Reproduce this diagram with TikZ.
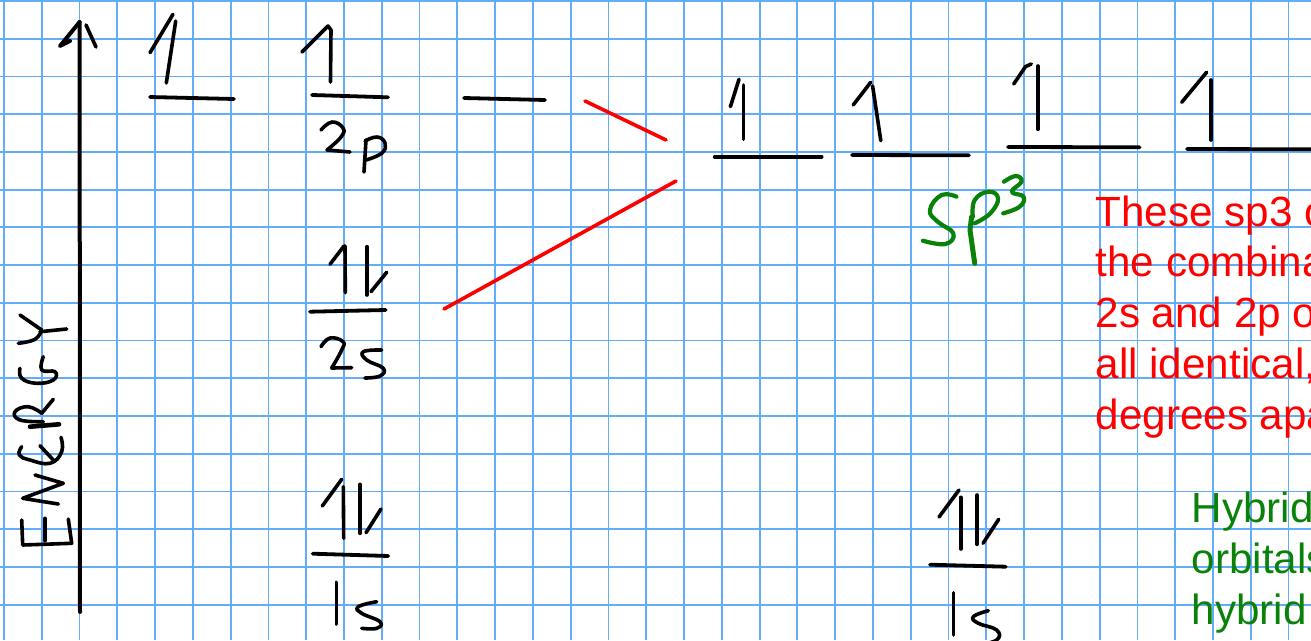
\documentclass[tikz,border=0pt]{standalone}
\usepackage{fontspec}
\setmainfont{Liberation Sans}
\definecolor{gridblue}{RGB}{98,172,250}
\definecolor{inkgreen}{RGB}{10,130,10}
\tikzset{
  gridline/.style={draw=gridblue,line width=1.8pt},
  ink/.style={draw=black,line width=3.6pt,line cap=round,line join=round},
  level/.style={draw=black,line width=3.8pt,line cap=round},
  redline/.style={draw=red,line width=3.6pt,line cap=round},
  greenink/.style={draw=inkgreen,line width=4.2pt,line cap=round,line join=round},
  curve/.style={smooth,tension=.75},
  redtext/.style={anchor=base west,inner sep=0pt,text=red,font=\fontsize{42.2}{42.2}\selectfont},
  greentext/.style={anchor=base west,inner sep=0pt,text=inkgreen,font=\fontsize{42.2}{42.2}\selectfont}
}
\begin{document}
\begin{tikzpicture}[x=1pt,y=-1pt]
\useasboundingbox (0,0) rectangle (1311,640);
\clip (0,0) rectangle (1311,640);
\fill[white] (0,0) rectangle (1311,640);
% grid
\foreach \k in {0,...,34} \draw[gridline] ({4+37.78*\k},0) -- ({4+37.78*\k},640);
\foreach \k in {0,...,16} \draw[gridline] (0,{1+37.73*\k}) -- (1311,{1+37.73*\k});
% axis
\draw[ink,line width=4pt] (80,612) -- (79.6,22);
\draw[ink,line width=4pt] (79.6,22) -- (60,46) -- (70,41);
\draw[ink] (86,25) -- (96,47);
% ENERGY
\draw[ink] (21.7,520) -- (22.7,545) -- (71.7,543.3) -- (68.3,519);
\draw[ink] (45,518.3) -- (45,540.7);
\draw[ink] (58.3,504) -- (22.7,498.3) -- (63.3,483.3) -- (35,475);
\draw[ink] plot[curve] coordinates {(21.7,446.7) (19.3,455) (30,460) (50,463.3) (61.7,451.7) (61,437.3)};
\draw[ink] (40,445.7) -- (53.3,460);
\draw[ink,line width=4.6pt] (59,424.3) -- (30,426.7);
\draw[ink] plot[curve] coordinates {(43.3,421.7) (20,420) (15,411.7) (28.3,406.7) (41.7,413.3)};
\draw[ink] (41.7,413.3) -- (53.3,399.3);
\draw[ink] plot[curve] coordinates {(20,368.3) (21.7,378.3) (36.7,383.3) (53.3,380) (55,371.7) (41.7,370) (43.3,356.7)};
\draw[ink] (66.7,329) -- (40,331.7);
\draw[ink] plot[curve] coordinates {(18.3,343.3) (35,339.3) (41.7,330)};
\draw[ink] (41.7,330) -- (20,315);
% 2p orbitals
\draw[ink] (175.7,21) -- (166.3,83);
\draw[ink] (173,14.3) -- (150,52.7);
\draw[level] (150,97) -- (234,99);
\draw[ink] (302,52) -- (328,26) -- (331,30) -- (330.5,82);
\draw[level] (312,95) -- (388,97.3);
\draw[level] (464,98) -- (545,100);
\draw[ink] plot[curve] coordinates {(321,130) (332,122) (343,128) (341,137) (327,150)};
\draw[ink] (327,150) -- (350,152);
\draw[ink] (366,140) -- (364,172);
\draw[ink] plot[curve] coordinates {(365,141) (377,137) (385,143) (382,153) (366,160)};
% 2s
\draw[ink] (345,246) -- (345.3,292.7);
\draw[ink] (330,264.3) -- (344,246);
\draw[ink] (367,246.7) -- (367,295);
\draw[ink] (371,291.7) -- (386.7,272.3);
\draw[level] (310,311.7) -- (385.7,310);
\draw[ink] plot[curve] coordinates {(321,346.7) (330,338) (343,341.7) (341.7,350) (331.7,368)};
\draw[ink] (331.7,368) -- (351.7,367.7);
\draw[ink] plot[curve] coordinates {(381.7,350) (363.3,351.7) (366.7,360) (383.3,368.3) (380,376) (365,378)};
% 1s left
\draw[ink] (322.3,506) -- (341.7,479.3);
\draw[ink] (343.3,486.7) -- (343.7,538.3);
\draw[ink] (360,484.3) -- (360,533.3);
\draw[ink] (366,532.7) -- (381,509);
\draw[level] (312.7,553.7) -- (388.3,556);
\draw[ink] (336.3,582.3) -- (336.3,624);
\draw[ink] plot[curve] coordinates {(376.7,601.7) (358.3,606.7) (361.7,613.3) (380,621.7) (376.7,628.3) (361.7,628.3)};
% hybridisation lines
\coordinate (pend) at (585,101);
\coordinate (hybtop) at (666,140);
\coordinate (send) at (444,309);
\coordinate (hybbot) at (676,181);
\draw[redline] (pend) -- (hybtop);
\draw[redline] (send) -- (hybbot);
% sp3 orbitals
\draw[level] (714.8,156.7) -- (821.6,156.7);
\draw[ink] (743.6,85) -- (743.6,139.3);
\draw[ink] (730.4,106.7) -- (739,79.3);
\draw[level] (852,155) -- (969,155.3);
\draw[ink] (872.6,86) -- (880.8,140.7);
\draw[ink] (853.2,105) -- (870.7,82.3);
\draw[level] (1007.9,147) -- (1139.6,147.3);
\draw[ink] (1037.9,66) -- (1037.9,129.3);
\draw[ink] (1013.7,84) -- (1025.4,66.7) -- (1031.3,64);
\draw[level] (1187,149) -- (1315,149.3);
\draw[ink] (1210.9,80) -- (1210.9,140);
\draw[ink] (1181.7,102.3) -- (1206.6,72.3);
% sp3 label
\draw[greenink] plot[curve] coordinates {(956.4,196.7) (941.6,195) (929.9,210) (937.7,221.7) (953.3,233.3) (945.5,244) (922.9,240.7)};
\draw[greenink,line width=5pt] (971.6,216.7) -- (970,230) -- (974.7,263.3);
\draw[greenink] plot[curve] coordinates {(972.8,216.7) (974.7,200) (988.4,191.7) (998.1,198.3) (990.3,213.3) (974.7,223.3)};
\draw[greenink] plot[curve] coordinates {(1004,181.7) (1015.7,176) (1021.5,181.7) (1011.8,191.7) (1023.5,196.7) (1019.6,206.7) (1003.2,213.3)};
% 1s right
\draw[ink] (939,517) -- (959,490);
\draw[ink] (960.7,497.3) -- (960.7,549);
\draw[ink] (977,495) -- (977,544.3);
\draw[ink] (983,543.3) -- (998.7,519.3);
\draw[level] (930,564.7) -- (1005.7,566.7);
\draw[ink] (953.3,592.7) -- (953.3,635);
\draw[ink] plot[curve] coordinates {(988.3,610.7) (973.3,616.7) (978.3,623.3) (996.7,630) (996.7,640) (978,645)};
% text
\node[redtext] (r1) at (1095.5,226) {These sp3 o};
\node[redtext] (r2) at (1095.5,276.8) {the combina};
\node[redtext] (r3) at (1095.5,327.6) {2s and 2p o};
\node[redtext] (r4) at (1095.5,378.4) {all identical,};
\node[redtext] (r5) at (1095.5,429.2) {degrees apa};
\node[greentext] (g1) at (1191.5,522.7) {Hybrid};
\node[greentext] (g2) at (1191.5,573.5) {orbitals};
\node[greentext] (g3) at (1191.5,624.3) {hybrid};
\end{tikzpicture}
\end{document}
